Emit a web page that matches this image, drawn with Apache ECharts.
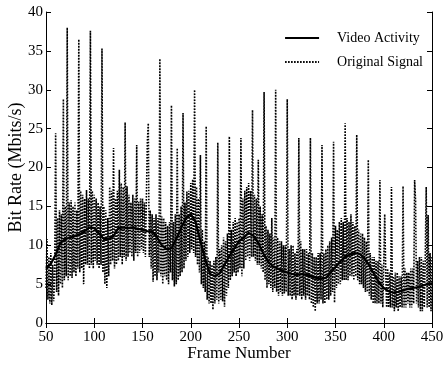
<!DOCTYPE html>
<html>
<head>
<meta charset="utf-8">
<script src="https://cdn.jsdelivr.net/npm/echarts@6/dist/echarts.min.js"></script>
<style>
html,body{margin:0;padding:0;background:#fff;}
#chart{width:445px;height:370px;}
</style>
</head>
<body>
<div id="chart"></div>
<script>
// Original signal: one value per frame, starting at frame 50
var originalStart = 50;
var originalSignal = [
  4.5, 10.8, 3.0, 8.5, 2.5, 9.0, 2.3, 7.5, 2.8, 6.0,
  24.4, 4.0, 13.5, 3.5, 14.5, 5.0, 14.0, 4.5, 28.8, 5.5, 15.0, 6.0,
  38.0, 5.5, 15.5, 6.0, 15.8, 5.8, 15.0, 6.5, 15.5, 6.0, 14.5, 7.0,
  36.5, 6.5, 17.0, 7.0, 16.5, 5.0, 16.0, 7.5, 17.1, 7.5, 16.0, 7.0,
  37.6, 7.5, 17.0, 7.0, 16.5, 8.0, 16.0, 7.5, 15.5, 7.0, 15.0, 7.5,
  35.3, 6.5, 15.0, 5.0, 14.5, 4.5, 13.5, 6.0, 17.5, 7.5, 17.0, 8.0,
  22.5, 7.0, 16.0, 7.5, 17.0, 8.0, 19.7, 8.5, 18.0, 7.5, 17.5, 8.5,
  25.8, 8.0, 17.6, 8.5, 16.5, 9.0, 15.5, 8.5, 16.5, 8.0, 16.0, 9.0,
  22.9, 8.5, 15.6, 9.0, 16.0, 9.5, 16.0, 9.0, 15.5, 8.5, 16.0, 23.3,
  25.7, 8.5, 14.5, 7.0, 14.0, 5.3, 13.5, 6.0, 14.0, 5.5, 13.5, 6.5,
  34.0, 6.0, 13.7, 5.0, 13.5, 6.0, 13.0, 5.5, 12.5, 5.0, 13.0, 6.5,
  28.0, 5.5, 13.0, 4.7, 14.0, 5.0, 22.5, 5.5, 14.0, 6.0, 15.0, 6.5,
  27.0, 7.0, 15.5, 8.0, 16.9, 8.5, 17.0, 9.0, 18.0, 9.5, 18.5, 9.0,
  30.0, 8.5, 17.5, 7.5, 16.0, 6.5, 21.6, 5.0, 12.0, 4.5, 10.5, 4.0,
  25.3, 3.0, 8.5, 2.5, 8.0, 2.5, 7.5, 1.7, 8.0, 2.5, 8.5, 3.0,
  23.2, 2.5, 9.5, 3.0, 10.0, 2.8, 11.0, 2.1, 10.5, 3.5, 11.5, 4.5,
  24.0, 5.5, 12.0, 6.0, 13.0, 6.5, 13.5, 6.0, 13.0, 6.5, 13.5, 7.0,
  23.8, 6.0, 16.0, 7.0, 17.0, 8.0, 17.5, 8.5, 18.0, 8.0, 17.0, 8.5,
  27.4, 8.5, 16.5, 8.0, 16.0, 7.5, 21.0, 7.5, 15.0, 7.0, 14.0, 6.5,
  29.7, 5.5, 12.5, 4.5, 12.0, 5.0, 11.5, 4.5, 13.5, 4.0, 11.0, 4.5,
  30.0, 4.0, 11.0, 3.5, 10.5, 4.0, 10.5, 3.5, 10.0, 3.8, 10.0, 4.0,
  28.8, 3.5, 9.5, 3.5, 10.0, 3.0, 10.0, 3.5, 9.0, 3.0, 9.5, 3.5,
  23.8, 3.5, 10.5, 3.0, 9.5, 3.5, 9.5, 3.0, 9.5, 3.5, 9.0, 3.0,
  23.8, 2.5, 9.0, 2.0, 8.5, 1.5, 8.5, 2.5, 9.0, 2.5, 9.0, 3.0,
  22.9, 2.5, 9.0, 2.5, 9.5, 3.0, 10.0, 3.0, 10.5, 3.5, 11.0, 4.0,
  23.3, 2.6, 12.5, 4.5, 12.0, 5.0, 13.0, 5.0, 13.5, 5.5, 13.0, 5.5,
  25.7, 5.5, 13.5, 5.5, 13.0, 6.0, 14.0, 6.0, 13.0, 5.5, 12.5, 6.0,
  24.2, 5.5, 12.0, 5.0, 11.5, 5.0, 11.5, 4.5, 11.0, 4.0, 10.5, 4.0,
  21.0, 3.5, 9.0, 3.0, 8.5, 2.5, 8.5, 2.5, 8.0, 2.5, 8.0, 2.5,
  18.4, 2.5, 7.5, 2.0, 7.5, 14.0, 7.0, 2.0, 7.0, 2.0, 6.5, 2.0,
  17.5, 2.0, 6.0, 1.5, 6.5, 2.0, 6.5, 1.5, 6.0, 2.0, 6.0, 2.0,
  17.6, 2.0, 7.0, 2.0, 6.5, 2.5, 6.5, 2.0, 7.0, 2.0, 7.0, 2.5,
  18.4, 15.6, 2.5, 8.0, 2.0, 8.5, 1.5, 8.5, 1.5, 8.0, 2.0, 8.5,
  17.5, 2.0, 13.9, 2.0, 9.0, 1.5, 8.5
];

// Video activity: one value every 5 frames, from frame 50 to 450
var activityStart = 50;
var activityStep = 5;
var videoActivity = [
  7.0, 7.6, 8.8, 10.3, 10.8, 11.0, 11.2, 11.4, 11.8, 12.3, 12.2,
  11.5, 10.8, 10.8, 11.2, 12.2, 12.3, 12.2, 12.3, 12.1, 12.0,
  11.8, 11.8, 11.0, 10.0, 9.5, 9.6, 10.8, 12.2, 13.5, 14.0,
  13.0, 10.5, 8.2, 6.3, 6.0, 6.4, 7.5, 8.6, 9.6, 10.5,
  11.0, 11.6, 11.2, 10.3, 9.0, 7.9, 7.3, 7.0, 6.7, 6.5,
  6.3, 6.2, 6.3, 6.2, 6.0, 5.8, 5.7, 5.8, 6.5, 7.2,
  7.9, 8.5, 8.8, 9.0, 8.9, 8.3, 7.4, 6.3, 5.2, 4.5,
  4.1, 3.9, 4.0, 4.2, 4.4, 4.5, 4.6, 4.8, 5.0, 5.1
];

var xTicks = {min: 50, max: 450, interval: 50};
var yTicks = {min: 0, max: 40, interval: 5};
var seriesNames = ['Video Activity', 'Original Signal'];
var axisNames = {x: 'Frame Number', y: 'Bit Rate (Mbits/s)'};

var origData = originalSignal.map(function (v, i) { return [originalStart + i, v]; });
var actData = videoActivity.map(function (v, i) { return [activityStart + i * activityStep, v]; });

var FONT = 'Liberation Serif';
var axisLineStyle = {lineStyle: {color: '#000', width: 1}};
function tick() { return {show: true, inside: true, length: 5, lineStyle: {color: '#000', width: 1}}; }

var chart = echarts.init(document.getElementById('chart'), null, {renderer: 'canvas'});
chart.setOption({
  animation: false,
  backgroundColor: '#fff',
  grid: {left: 46, right: 13, top: 12, bottom: 47, outerBoundsMode: 'none', containLabel: false},
  legend: {
    orient: 'vertical',
    right: 17,
    top: 26,
    itemWidth: 34,
    itemHeight: 14,
    itemGap: 10,
    data: seriesNames,
    itemStyle: {opacity: 0},
    textStyle: {fontFamily: FONT, fontSize: 14, color: '#000', padding: [0, 0, 0, 13]}
  },
  xAxis: [
    {type: 'value', position: 'bottom', min: xTicks.min, max: xTicks.max, interval: xTicks.interval,
     name: axisNames.x, nameLocation: 'middle', nameGap: 22, nameMoveOverlap: false,
     nameTextStyle: {fontFamily: FONT, fontSize: 17, color: '#000'},
     axisLine: axisLineStyle, axisTick: tick(), splitLine: {show: false},
     axisLabel: {fontFamily: FONT, fontSize: 15, color: '#000', margin: 7}},
    {type: 'value', position: 'top', min: xTicks.min, max: xTicks.max, interval: xTicks.interval,
     axisLine: axisLineStyle, axisTick: tick(), splitLine: {show: false}, axisLabel: {show: false}}
  ],
  yAxis: [
    {type: 'value', position: 'left', min: yTicks.min, max: yTicks.max, interval: yTicks.interval,
     name: axisNames.y, nameLocation: 'middle', nameGap: 21, nameMoveOverlap: false,
     nameTextStyle: {fontFamily: FONT, fontSize: 18, color: '#000'},
     axisLine: axisLineStyle, axisTick: tick(), splitLine: {show: false},
     axisLabel: {fontFamily: FONT, fontSize: 15, color: '#000', margin: 3}},
    {type: 'value', position: 'right', min: yTicks.min, max: yTicks.max, interval: yTicks.interval,
     axisLine: axisLineStyle, axisTick: tick(), splitLine: {show: false}, axisLabel: {show: false}}
  ],
  series: [
    {name: seriesNames[0], type: 'line', data: actData, xAxisIndex: 0, yAxisIndex: 0,
     showSymbol: false, symbol: 'none', z: 3,
     lineStyle: {color: '#000', width: 2.2, type: 'solid'}, itemStyle: {color: '#000'}},
    {name: seriesNames[1], type: 'line', data: origData, xAxisIndex: 0, yAxisIndex: 0,
     showSymbol: false, symbol: 'none', z: 2, sampling: null,
     lineStyle: {color: '#000', width: 1.6, type: [1.6, 1.4]}, itemStyle: {color: '#000'}}
  ]
});
</script>
</body>
</html>
